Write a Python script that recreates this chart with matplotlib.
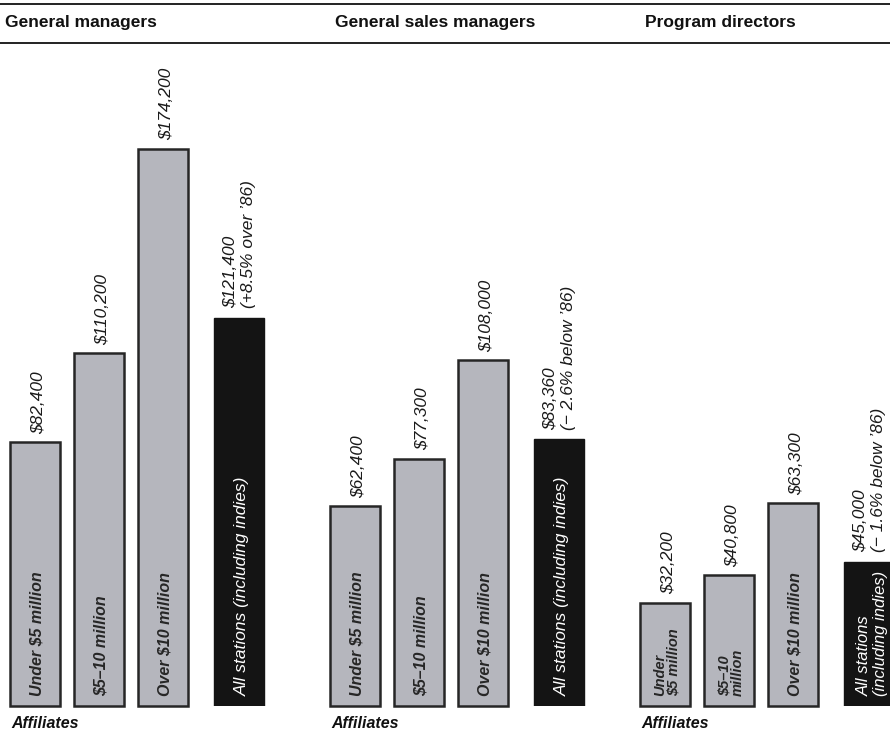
import matplotlib.pyplot as plt
from matplotlib.lines import Line2D

# salaries by market size (affiliates) plus all stations
groups = ['General managers', 'General sales managers', 'Program directors']
affiliate_values = [
    [82400, 110200, 174200],
    [62400, 77300, 108000],
    [32200, 40800, 63300],
]
all_values = [121400, 83360, 45000]
all_changes = ['(+8.5% over \u201986)', '(\u2212 2.6% below \u201986)', '(\u2212 1.6% below \u201986)']
bar_labels = [
    ['Under $5 million', '$5\u201310 million', 'Over $10 million'],
    ['Under $5 million', '$5\u201310 million', 'Over $10 million'],
    ['Under\n$5 million', '$5\u201310\nmillion', 'Over $10 million'],
]
all_labels = ['All stations (including indies)', 'All stations (including indies)',
              'All stations\n(including indies)']

W, H = 890, 735
fig = plt.figure(figsize=(W / 100, H / 100), dpi=100)

sans = ['Liberation Sans', 'DejaVu Sans']

gray = '#b5b6bd'
edge = '#262626'
black = '#141414'

step = 64          # px between bar lefts
bar_w = 50         # px
base_y = 706       # px from top
top_y = 60
ax_w = 310
lefts = [0, 320, 630]
black_gap = 3.19   # black bar offset, in bar steps

ymax = (base_y - top_y) / 3.2 * 1000

for g, name in enumerate(groups):
    ax = fig.add_axes([lefts[g] / W, (H - base_y) / H, ax_w / W, (base_y - top_y) / H])
    ax.set_facecolor('none')
    x0 = (10 + bar_w / 2) / step
    ax.set_xlim(-x0, -x0 + ax_w / step)
    ax.set_ylim(0, ymax)
    ax.axis('off')

    xs = [0, 1, 2]
    vals = affiliate_values[g]
    ax.bar(xs, vals, width=bar_w / step, color=gray, edgecolor=edge, linewidth=1.8,
           clip_on=False)
    for x, v, lab in zip(xs, vals, bar_labels[g]):
        ax.text(x + 0.05, v + 2700, f'${v:,}', rotation=90, ha='center', va='bottom',
                fontsize=12.5, style='italic', family=sans, color='#1a1a1a')
        ax.text(x + 0.03, 3000, lab, rotation=90, ha='center', va='bottom', multialignment='left',
                fontsize=11.5 if '\n' not in lab else 10.5, style='italic', weight='bold',
                family=sans, color='#262626', linespacing=0.95)

    xb = black_gap
    ax.bar([xb], [all_values[g]], width=bar_w / step, color=black, edgecolor=black,
           clip_on=True)
    ax.text(xb, all_values[g] + 3000, f'${all_values[g]:,}\n{all_changes[g]}',
            rotation=90, ha='center', va='bottom', multialignment='left',
            fontsize=12.5, style='italic', family=sans, color='#1a1a1a', linespacing=1.25)
    ax.text(xb + 0.05, 3000, all_labels[g], rotation=90, ha='center', va='bottom',
            multialignment='left', fontsize=12.5 if g < 2 else 12, style='italic',
            family=sans, color='white', linespacing=1.1)

    # headers and footers
    fig.text((lefts[g] + 5 + (10 if g else 0)) / W, 1 - 23 / H, name, ha='left', va='center',
             fontsize=12.5, weight='bold', family=sans, color='#111111')
    fig.text((lefts[g] + 11) / W, 1 - 723 / H, 'Affiliates', ha='left', va='center',
             fontsize=11.5, weight='bold', style='italic', family=sans, color='#111111')

for y in (4, 43):
    fig.add_artist(Line2D([0, 1], [1 - y / H, 1 - y / H], transform=fig.transFigure,
                          color='#222222', linewidth=1.4))

fig.savefig('out.png', dpi=100)
